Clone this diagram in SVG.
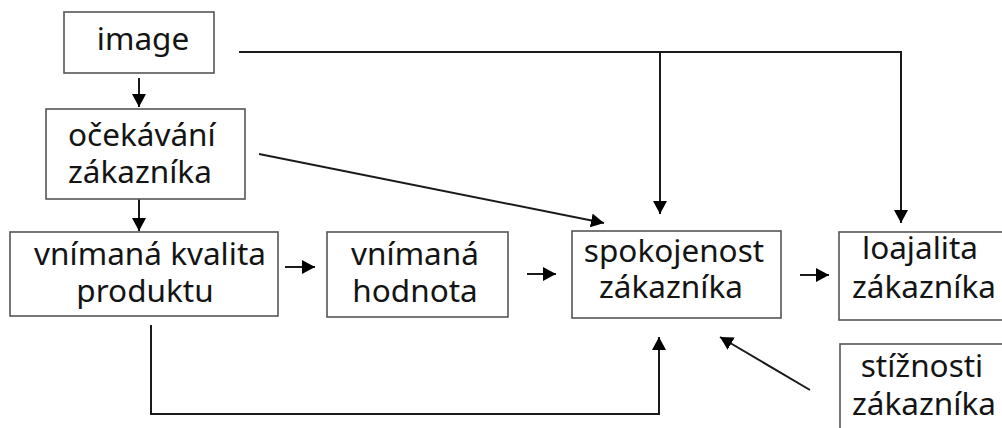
<svg xmlns="http://www.w3.org/2000/svg" width="1002" height="428" viewBox="0 0 1002 428">
<style>
.box{fill:#fff;stroke:#555;stroke-width:1.6}
.lbl{font-family:"Noto Sans","Open Sans",sans-serif;font-size:31.5px;fill:#141414}
.c{text-anchor:middle}
.con{fill:none;stroke:#1a1a1a;stroke-width:2}
.arr{marker-end:url(#ah)}
</style>
<defs>
<marker id="ah" markerUnits="userSpaceOnUse" markerWidth="14" markerHeight="14" viewBox="0 0 14 14" refX="13" refY="7" orient="auto">
<path d="M0,0 L13,7 L0,14 z" fill="#000"/>
</marker>
</defs>
<rect width="1002" height="428" fill="#fff"/>
<g id="connectors">
<path class="con arr" d="M139,78 V107"/>
<path class="con arr" d="M239,52 H901 V223"/>
<path class="con arr" d="M660,52 V214"/>
<path class="con arr" d="M139,199 V231"/>
<path class="con arr" d="M259,154 L604,223"/>
<path class="con arr" d="M285,267 H315"/>
<path class="con arr" d="M527,274 H556"/>
<path class="con arr" d="M800,275 H829"/>
<path class="con arr" d="M151,325 V414 H659 V337"/>
<path class="con arr" d="M810,390 L720,337"/>
</g>
<g id="image">
<rect class="box" x="64" y="12" width="150" height="61"/>
<text class="lbl c" x="143" y="50">image</text>
</g>
<g id="ocekavani">
<rect class="box" x="46" y="109" width="199" height="90"/>
<text class="lbl" x="68" y="146">očekávání</text>
<text class="lbl" x="68" y="183">zákazníka</text>
</g>
<g id="kvalita">
<rect class="box" x="10" y="232" width="268" height="84"/>
<text class="lbl c" x="150" y="265">vnímaná kvalita</text>
<text class="lbl c" x="145" y="302">produktu</text>
</g>
<g id="hodnota">
<rect class="box" x="327" y="232" width="181" height="85"/>
<text class="lbl c" x="415" y="265">vnímaná</text>
<text class="lbl c" x="415" y="302">hodnota</text>
</g>
<g id="spokojenost">
<rect class="box" x="572" y="231" width="209" height="87"/>
<text class="lbl c" x="674" y="262">spokojenost</text>
<text class="lbl c" x="671" y="298">zákazníka</text>
</g>
<g id="loajalita">
<rect class="box" x="839" y="232" width="175" height="88"/>
<text class="lbl c" x="920" y="259">loajalita</text>
<text class="lbl c" x="924" y="298">zákazníka</text>
</g>
<g id="stiznosti">
<rect class="box" x="840" y="344" width="175" height="100"/>
<text class="lbl c" x="922" y="377">stížnosti</text>
<text class="lbl c" x="924" y="415">zákazníka</text>
</g>
</svg>
